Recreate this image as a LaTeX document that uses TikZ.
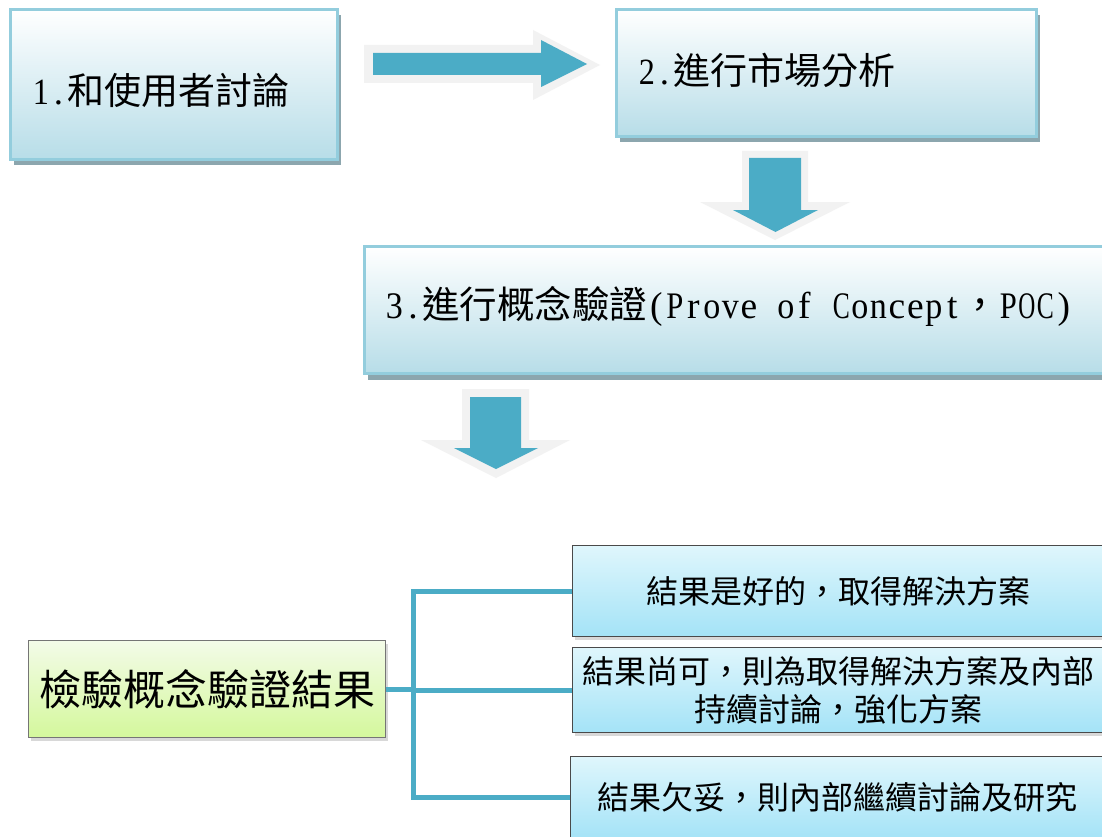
\documentclass[tikz,border=0pt]{standalone}
\usepackage{fontspec}
\usepackage{graphicx}
\setmainfont{Noto Sans CJK TC}
\newfontfamily\lat{Liberation Serif}
\usetikzlibrary{shadows}
\definecolor{arrowblue}{HTML}{4BACC6}
\definecolor{arrowgray}{HTML}{F2F2F2}
\definecolor{topbord}{HTML}{93CDDD}
\definecolor{topbot}{HTML}{B7DDE8}
\definecolor{shadowc}{HTML}{8CA6AE}
\definecolor{resbord}{HTML}{4A4A4A}
\definecolor{restop}{HTML}{DFF6FC}
\definecolor{resbot}{HTML}{A4E3F7}
\definecolor{grntop}{HTML}{F3FBE8}
\definecolor{grnbot}{HTML}{D4F89C}
\definecolor{grnbord}{HTML}{757575}
\newlength\cw
\newlength\gw
\newsavebox\gbox
\newcommand\mono[2]{\setlength\cw{#1}\setlength\gw{0.92\cw}\monoi#2\relax}
\def\monoi#1{\ifx#1\relax\else\sbox\gbox{#1}\makebox[\cw]{\ifdim\wd\gbox>\gw\resizebox{\gw}{\ht\gbox}{\usebox\gbox}\else\usebox\gbox\fi}\expandafter\monoi\fi}
\tikzset{
  stepbox/.style={rectangle, draw=topbord, line width=3pt, top color=white, bottom color=topbot,
    inner sep=0pt, anchor=north west,
    general shadow={fill=shadowc, shadow xshift=3pt, shadow yshift=-6pt}},
  steptext/.style={anchor=west, inner sep=0pt, font=\fontsize{37}{40}\selectfont},
  resbox/.style={rectangle, draw=resbord, line width=1.2pt, top color=restop, bottom color=resbot,
    inner sep=0pt, anchor=north west, align=center, font=\fontsize{32}{38}\selectfont,
    drop shadow={opacity=0.3, shadow xshift=2pt, shadow yshift=-3pt}},
  grnbox/.style={rectangle, draw=grnbord, line width=1.2pt, top color=grntop, bottom color=grnbot,
    inner sep=0pt, anchor=north west, font=\fontsize{42}{44}\selectfont,
    drop shadow={opacity=0.3, shadow xshift=2pt, shadow yshift=-3pt}},
  conn/.style={draw=arrowblue, line width=5pt, line join=miter},
}
\begin{document}
\begin{tikzpicture}[x=1pt, y=-1pt]
\fill[white] (0,0) rectangle (1102,837);
\useasboundingbox (0,0) rectangle (1102,837);

% top boxes
\node[stepbox, minimum width=327pt, minimum height=150pt] (b1) at (9,8) {};
\node[steptext] (t1) at (32,90) {{\lat\mono{17.5pt}{1.}}和使用者討論};
\node[stepbox, minimum width=420pt, minimum height=127pt] (b2) at (615,8) {};
\node[steptext] (t2) at (638,70) {{\lat\mono{17.5pt}{2.}}進行市場分析};
\node[stepbox, minimum width=747pt, minimum height=127pt] (b3) at (363,245) {};
\node[steptext, font=\fontsize{37.5}{40}\selectfont] (t3) at (385,306)
  {{\lat\mono{18.5pt}{3.}}進行概念驗證{\lat\mono{18.5pt}{(Prove~of~Concept}}，{\lat\mono{18.5pt}{POC)}}};

% block arrows
\fill[arrowgray] (364,45) -- (533,45) -- (533,30) -- (600,65) -- (533,100) -- (533,83) -- (364,83) -- cycle;
\fill[arrowblue] (373,53) -- (541,53) -- (541,40) -- (587,64) -- (541,87) -- (541,75) -- (373,75) -- cycle;

\fill[arrowgray] (742,151) -- (808,151) -- (808,202) -- (850,202) -- (775,240) -- (700,202) -- (742,202) -- cycle;
\fill[arrowblue] (749,158) -- (801,158) -- (801,210) -- (818,210) -- (775.5,232) -- (733,210) -- (749,210) -- cycle;

\fill[arrowgray] (462,389) -- (529,389) -- (529,440) -- (570,440) -- (496,478) -- (421,440) -- (462,440) -- cycle;
\fill[arrowblue] (470,397) -- (521,397) -- (521,448) -- (538,448) -- (496,469) -- (454,448) -- (470,448) -- cycle;

% result part
\node[grnbox, minimum width=357pt, minimum height=97pt] (L) at (28,640) {檢驗概念驗證結果};
\node[resbox, minimum width=532pt, minimum height=91pt] (A) at (572,545) {結果是好的，取得解決方案};
\node[resbox, minimum width=532pt, minimum height=85pt] (B) at (572,647) {結果尚可，則為取得解決方案及內部\\持續討論，強化方案};
\node[resbox, minimum width=534pt, minimum height=82pt] (C) at (570,756) {結果欠妥，則內部繼續討論及研究};

\coordinate (spine) at (413,0);
\draw[conn] (L.east) -- (spine |- L.east);
\draw[conn] (A.west) -- (spine |- A.west) -- (spine |- C.west) -- (C.west);
\draw[conn] (spine |- B.west) -- (B.west);
\end{tikzpicture}
\end{document}
